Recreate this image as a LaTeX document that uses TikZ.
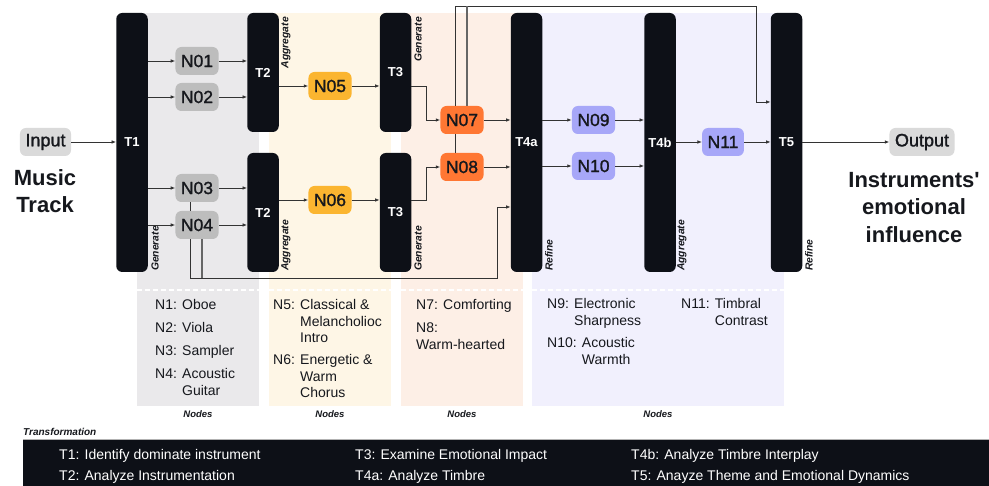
\documentclass[tikz,border=0pt]{standalone}
\usepackage{fontspec}
\setmainfont{Liberation Sans}[Ligatures=TeXOff]
\newfontfamily\medf{Liberation Sans}[FakeBold=1.4, Ligatures=TeXOff]
\usetikzlibrary{arrows.meta}
\definecolor{barc}{HTML}{0D1017}
\definecolor{pgray}{HTML}{EAE9EB}
\definecolor{pyel}{HTML}{FEF6E6}
\definecolor{ppch}{HTML}{FDEFE6}
\definecolor{plav}{HTML}{F1F0FD}
\definecolor{ngray}{HTML}{BDBDBD}
\definecolor{iogray}{HTML}{DADADA}
\definecolor{nyel}{HTML}{FBB530}
\definecolor{norg}{HTML}{FF7733}
\definecolor{nlav}{HTML}{A7A7F8}
\definecolor{linec}{HTML}{333333}
\definecolor{txtc}{HTML}{16181D}
\begin{document}
\begin{tikzpicture}[x=1pt,y=-1pt,
  tbar/.style={fill=barc, rounded corners=6pt, minimum width=31.5pt, text=white,
    font=\fontsize{13}{13}\selectfont\bfseries, inner sep=0pt},
  nbox/.style={rounded corners=6pt, minimum height=28pt, inner xsep=5.5pt, inner ysep=0pt,
    font=\medf\fontsize{17.5}{17.5}\selectfont, text=txtc},
  iobox/.style={nbox, fill=iogray, font=\medf\fontsize{18}{18}\selectfont},
  gbox/.style={nbox, fill=ngray},
  ybox/.style={nbox, fill=nyel},
  obox/.style={nbox, fill=norg},
  lbox/.style={nbox, fill=nlav},
  rlab/.style={rotate=90, font=\fontsize{10.3}{10.3}\selectfont\bfseries\itshape, inner sep=0pt, text=txtc},
  leg/.style={font=\fontsize{14}{16.3}\selectfont, inner sep=0pt, text=txtc, anchor=base west},
  band/.style={font=\fontsize{14}{14}\selectfont, inner sep=0pt, text=white, anchor=base west},
  small/.style={font=\fontsize{9.5}{9.5}\selectfont\bfseries\itshape, inner sep=0pt, text=txtc},
  big/.style={font=\fontsize{22}{27.5}\selectfont\bfseries, align=center, inner sep=0pt, text=txtc},
  arr/.style={draw=linec, line width=0.8pt, -{Latex[length=4.5pt,width=3.6pt]}},
  ln/.style={draw=linec, line width=0.8pt},
  lng/.style={draw=linec!75, line width=1.1pt},
  dsh/.style={draw=white, line width=1.2pt, dash pattern=on 5pt off 3pt},
]
\useasboundingbox (0,0) rectangle (989,486);
\fill[white] (0,0) rectangle (989,486);
% panels
\fill[pgray] (137,13) rectangle (259,406);
\fill[pyel] (269,13) rectangle (391,406);
\fill[ppch] (401,13) rectangle (523,406);
\fill[plav] (532,13) rectangle (784,406);
\draw[dsh] (137,290) -- (259,290);
\draw[dsh] (269,290) -- (391,290);
\draw[dsh] (401,290) -- (523,290);
\draw[dsh] (532,290) -- (784,290);

% bars
\node[tbar, minimum height=259pt] (T1) at (132,142.5) {T1};
\node[tbar, minimum height=119pt] (T2u) at (263,72.5) {T2};
\node[tbar, minimum height=119pt] (T2l) at (263,212.5) {T2};
\node[tbar, minimum height=119pt] (T3u) at (395.5,72.5) {T3};
\node[tbar, minimum height=119pt] (T3l) at (395.5,212.5) {T3};
\node[tbar, minimum height=259pt] (T4a) at (526.5,142.5) {T4a};
\node[tbar, minimum height=259pt] (T4b) at (660,142.5) {T4b};
\node[tbar, minimum height=259pt] (T5) at (786.5,142.5) {T5};

% rotated labels
\node[rlab, anchor=west] (g1) at (155,271) {Generate};
\node[rlab, anchor=east] (a1) at (286,17) {Aggregate};
\node[rlab, anchor=west] (a2) at (286,271) {Aggregate};
\node[rlab, anchor=east] (g2) at (418,17) {Generate};
\node[rlab, anchor=west] (g3) at (418,271) {Generate};
\node[rlab, anchor=west] (r1) at (549,271) {Refine};
\node[rlab, anchor=west] (a3) at (682,271) {Aggregate};
\node[rlab, anchor=west] (r2) at (809,271) {Refine};

% boxes
\node[iobox] (In) at (45.5,142) {Input};
\node[iobox] (Out) at (922,142) {Output};
\node[gbox] (N01) at (197,61) {N01};
\node[gbox] (N02) at (197,97) {N02};
\node[gbox] (N03) at (197,188) {N03};
\node[gbox] (N04) at (197,225) {N04};
\node[ybox] (N05) at (330,86) {N05};
\node[ybox] (N06) at (330,200) {N06};
\node[obox] (N07) at (462,120) {N07};
\node[obox] (N08) at (462,167) {N08};
\node[lbox] (N09) at (593.5,120) {N09};
\node[lbox] (N10) at (593.5,166) {N10};
\node[lbox] (N11) at (723,142) {N11};

% big texts
\node[big, anchor=north] (mt) at (45,169) {Music\\Track};
\node[big, anchor=north] (ie) at (914,172) {Instruments'\\emotional\\influence};

% helper coordinates
\coordinate (v1) at (455,6);
\coordinate (v4) at (467,6);
\coordinate (tr) at (756,6);
\coordinate (v2) at (190,278);
\coordinate (v3) at (202,278);
\coordinate (b1) at (497,278);
\coordinate (j4) at (0,207);
\coordinate (j5) at (0,102);

% connectors
\draw[arr] (In) -- (T1.west |- In);
\draw[arr] (T1.east |- N01) -- (N01);
\draw[arr] (T1.east |- N02) -- (N02);
\draw[arr] (T1.east |- N03) -- (N03);
\draw[arr] (T1.east |- N04) -- (N04);
\draw[arr] (N01) -- (T2u.west |- N01);
\draw[arr] (N02) -- (T2u.west |- N02);
\draw[arr] (N03) -- (T2l.west |- N03);
\draw[arr] (N04) -- (T2l.west |- N04);
\draw[arr] (T2u.east |- N05) -- (N05);
\draw[arr] (T2l.east |- N06) -- (N06);
\draw[arr] (N05) -- (T3u.west |- N05);
\draw[arr] (N06) -- (T3l.west |- N06);
\draw[arr] (T3u.east |- N05) -- ++(15,0) |- (N07.west);
\draw[arr] (T3l.east |- N06) -- ++(15,0) |- (N08.west);
\draw[arr] (N07) -- (T4a.west |- N07);
\draw[arr] (N08) -- (T4a.west |- N08);
\draw[ln] (N07.south -| v1) -- (N08.north -| v1);
\draw[ln] (N03.south -| v2) -- (N04.north -| v2);
\draw[arr] (N04.south -| v2) -- (v2) -- (b1) |- (T4a.west |- j4);
\draw[lng] (N04.south -| v3) -- (v3);
\draw[arr] (N07.north -| v1) -- (v1) -- (tr) |- (T5.west |- j5);
\draw[lng] (N07.north -| v4) -- (v4);
\draw[arr] (T4a.east |- N09) -- (N09);
\draw[arr] (T4a.east |- N10) -- (N10);
\draw[arr] (N09) -- (T4b.west |- N09);
\draw[arr] (N10) -- (T4b.west |- N10);
\draw[arr] (T4b.east |- N11) -- (N11);
\draw[arr] (N11) -- (T5.west |- N11);
\draw[arr] (T5.east |- Out) -- (Out);

% legend texts
\node[leg] (d1) at (155,310) {N1: Oboe};
\node[leg] (d2) at (155,333) {N2: Viola};
\node[leg] (d3) at (155,356) {N3: Sampler};
\node[leg] (d4) at (155,379) {\begin{tabular}[t]{@{}l@{ }l@{}}N4: & Acoustic\\ & Guitar\end{tabular}};
\node[leg] (d5) at (273,310) {\begin{tabular}[t]{@{}l@{ }l@{}}N5: & Classical \&\\ & Melancholioc\\ & Intro\end{tabular}};
\node[leg] (d6) at (273,365) {\begin{tabular}[t]{@{}l@{ }l@{}}N6: & Energetic \&\\ & Warm\\ & Chorus\end{tabular}};
\node[leg] (d7) at (416,310) {N7: Comforting};
\node[leg] (d8) at (416,333) {\begin{tabular}[t]{@{}l@{}}N8:\\Warm-hearted\end{tabular}};
\node[leg] (d9) at (547,309) {\begin{tabular}[t]{@{}l@{ }l@{}}N9: & Electronic\\ & Sharpness\end{tabular}};
\node[leg] (d10) at (547,348) {\begin{tabular}[t]{@{}l@{ }l@{}}N10: & Acoustic\\ & Warmth\end{tabular}};
\node[leg] (d11) at (681,309) {\begin{tabular}[t]{@{}l@{ }l@{}}N11: & Timbral\\ & Contrast\end{tabular}};

\node[small] (k1) at (198,414) {Nodes};
\node[small] (k2) at (330,414) {Nodes};
\node[small] (k3) at (462,414) {Nodes};
\node[small] (k4) at (658,414) {Nodes};

% transformation band
\node[small, anchor=west, font=\fontsize{10}{10}\selectfont\bfseries\itshape] (tt) at (23,432) {Transformation};
\fill[barc] (23,439) rectangle (989,486);
\draw[gray!60, line width=0.6pt] (23,439.3) -- (989,439.3);
\node[band] (e1) at (59,460) {T1: Identify dominate instrument};
\node[band] (e2) at (59,481) {T2: Analyze Instrumentation};
\node[band] (e3) at (355,460) {T3: Examine Emotional Impact};
\node[band] (e4) at (355,481) {T4a: Analyze Timbre};
\node[band] (e5) at (631,460) {T4b: Analyze Timbre Interplay};
\node[band] (e6) at (631,481) {T5: Anayze Theme and Emotional Dynamics};
\end{tikzpicture}
\end{document}
